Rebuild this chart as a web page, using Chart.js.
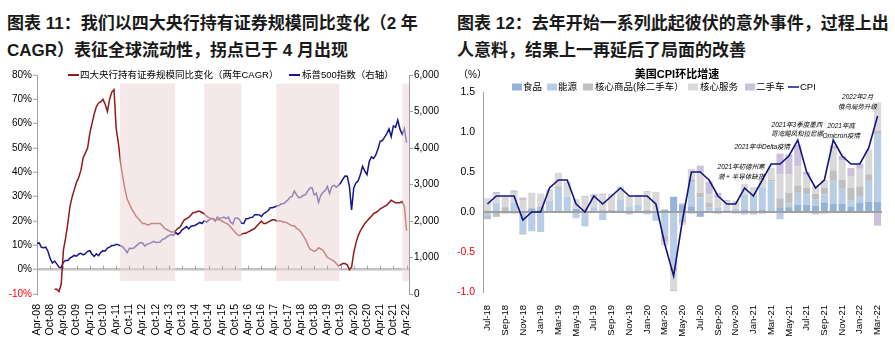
<!DOCTYPE html>
<html><head><meta charset="utf-8">
<script src="https://cdn.jsdelivr.net/npm/chart.js@4.4.0/dist/chart.umd.min.js"></script>
<style>
html,body{margin:0;padding:0;background:#fff;}
body{width:895px;height:343px;position:relative;overflow:hidden;font-family:"Liberation Sans","Noto Sans CJK SC",sans-serif;}
.title{position:absolute;font-weight:bold;font-size:17px;line-height:27px;color:#1a1a1a;white-space:nowrap;}
#t1{left:7px;top:10px;}
#t2{left:457px;top:10px;}
canvas{position:absolute;}
#c1{left:0;top:60px;}
#c2{left:450px;top:60px;}
</style></head><body>
<div class="title" id="t1">图表 11：我们以四大央行持有证券规模同比变化（2 年<br>CAGR）表征全球流动性，拐点已于 4 月出现</div>
<div class="title" id="t2">图表 12：去年开始一系列此起彼伏的意外事件，过程上出<br>人意料，结果上一再延后了局面的改善</div>
<canvas id="c1" width="450" height="283"></canvas>
<canvas id="c2" width="445" height="283"></canvas>
<script>
const FONT = '"Liberation Sans","Noto Sans CJK SC",sans-serif';
Chart.defaults.font.family = FONT;
Chart.defaults.color = '#000';
Chart.defaults.animation = false;

// ---------------- Chart 11 data (monthly, Apr-08 .. Apr-22) ----------------
const xTickLabels = ['Apr-08','Oct-08','Apr-09','Oct-09','Apr-10','Oct-10','Apr-11','Oct-11','Apr-12','Oct-12',
  'Apr-13','Oct-13','Apr-14','Oct-14','Apr-15','Oct-15','Apr-16','Oct-16','Apr-17','Oct-17','Apr-18','Oct-18',
  'Apr-19','Oct-19','Apr-20','Oct-20','Apr-21','Oct-21','Apr-22'];
const seriesNames11 = ['四大央行持有证券规模同比变化（两年CAGR）','标普500指数（右轴）'];
const cbSecuritiesCAGR = [null,null,null,null,null,null,null,null,
  -8,-8,-9,-6,8,13,19,26,30,33,36,38,41,46,48,50,56,60,64,67,68.5,69,70,68,65,70,73,74,58,52,44,38,33,29,27,25,23.5,22,21,20,19,19,18.5,18.5,19,19,19,19,19,18,17,16.5,
  16,15.5,15.5,16,17,17.5,19,20.5,21,21.5,22.5,23.5,23.5,24,24,23.5,23,22,21.5,21,21,20.5,20.5,20.5,20,19.5,19,18.5,17.5,16.5,15.5,14.5,14,14.5,15,15,15.5,16,16.5,17,18,19,20,19,19,19.5,20,20.5,20.5,20,20,20,19.5,19.5,19,18.5,18,18,
  17,16.5,15.5,14,12.5,10.5,8.5,8,7.5,8,9,8.5,8,6.5,5,4.5,4,3.5,2.5,1.5,2,2.5,2.5,2,0,1,7,11,14,16,17.5,19,20,21,22,23,23.5,24,25,25.5,26,26.5,27.5,28.5,28,27.5,27.5,27.5,28,26,16];
const spx500 = [1386,1400,1280,1267,1283,1166,969,850,903,
  826,735,720,873,919,919,987,1021,1057,1036,1096,1115,
  1074,1104,1169,1187,1089,1031,1102,1049,1141,1183,1181,1258,
  1286,1327,1326,1364,1345,1321,1292,1219,1131,1253,1247,1258,
  1312,1366,1408,1398,1310,1362,1379,1407,1441,1412,1416,1426,
  1498,1515,1569,1598,1631,1606,1686,1633,1682,1757,1806,1848,
  1783,1859,1872,1884,1924,1960,1931,2003,1972,2018,2068,2059,
  1995,2105,2068,2086,2107,2063,2104,1972,1920,2079,2080,2044,
  1940,1932,2060,2065,2097,2099,2174,2171,2168,2126,2199,2239,
  2279,2364,2363,2384,2412,2423,2470,2472,2519,2575,2648,2674,
  2824,2714,2641,2648,2705,2718,2816,2902,2914,2712,2760,2507,
  2704,2784,2834,2946,2752,2942,2980,2926,2977,3038,3141,3231,
  3226,2954,2300,2912,3044,3100,3271,3500,3363,3270,3622,3756,
  3714,3811,3973,4181,4204,4298,4395,4523,4308,4605,4567,4766,
  4516,4374,4530,4150];
// shaded periods, in months since Apr-08
const slowdownPeriods = [[37.8,62.8],[76,92.9],[108.8,137.5],[166.1,169.1]];
const shadeRangePct = [76.5,-4.7];

const RED = '#8E1B1B', NAVY = '#16168A';

const plugin11 = {
  id: 'deco11',
  afterDatasetsDraw(chart){
    const {ctx, scales:{x, y}} = chart;
    ctx.save();
    ctx.fillStyle = 'rgba(238,216,216,0.58)';
    const yt = y.getPixelForValue(shadeRangePct[0]), yb = y.getPixelForValue(shadeRangePct[1]);
    for (const [a,b] of slowdownPeriods){
      const x0 = x.getPixelForValue(a), x1 = x.getPixelForValue(Math.min(b, x.max));
      ctx.fillRect(x0, yt, x1-x0, yb-yt);
    }
    ctx.strokeStyle = '#a8a8a8'; ctx.lineWidth = 1;
    const y0 = y.getPixelForValue(0);
    for (let i=0;i<xTickLabels.length;i++){
      const px = Math.round(x.getPixelForValue(i*6))+0.5;
      ctx.beginPath(); ctx.moveTo(px,y0-4); ctx.lineTo(px,y0); ctx.stroke();
    }
    ctx.restore();
  },
  afterDraw(chart){
    const ctx = chart.ctx;
    ctx.save();
    ctx.font = '9.5px ' + FONT; ctx.textBaseline = 'middle'; ctx.fillStyle = '#000';
    const ly = 15;
    ctx.lineWidth = 2;
    ctx.strokeStyle = RED; ctx.beginPath(); ctx.moveTo(68,ly); ctx.lineTo(79,ly); ctx.stroke();
    ctx.fillText(seriesNames11[0], 80, ly);
    ctx.strokeStyle = NAVY; ctx.beginPath(); ctx.moveTo(289,ly); ctx.lineTo(300,ly); ctx.stroke();
    ctx.fillText(seriesNames11[1], 302, ly);
    ctx.restore();
  }
};

new Chart(document.getElementById('c1'), {
  type: 'line',
  data: { datasets: [
    { label: seriesNames11[0], data: cbSecuritiesCAGR.map((v,i)=>({x:i,y:v})), borderColor: RED, borderWidth: 1.5, pointRadius: 0, yAxisID: 'y', spanGaps: false },
    { label: seriesNames11[1], data: spx500.map((v,i)=>({x:i,y:v})), borderColor: NAVY, borderWidth: 1.5, pointRadius: 0, yAxisID: 'y1' }
  ]},
  options: {
    responsive: false, devicePixelRatio: 1,
    layout: { padding: { top: 15, left: 0, right: 0, bottom: 0 } },
    plugins: { legend: { display: false }, tooltip: { enabled: false } },
    scales: {
      x: { type: 'linear', min: 0, max: 169.1,
        afterBuildTicks(axis){ axis.ticks = xTickLabels.map((_,i)=>({value:i*6})); },
        afterFit(axis){ axis.height = 49; },
        ticks: { autoSkip: false, minRotation: 90, maxRotation: 90, padding: 2, font: { size: 10.5 },
          callback: (v) => xTickLabels[Math.round(v/6)] },
        grid: { display: false }, border: { display: false } },
      y: { position: 'left', min: -10, max: 80,
        afterFit(axis){ axis.width = 37; },
        ticks: { stepSize: 10, padding: 1, font: { size: 10 }, callback: v => v + '%',
          color: c => c.tick.value < 0 ? '#ff0000' : '#000' },
        grid: { color: c => c.tick.value === 0 ? '#c0c0c0' : 'rgba(0,0,0,0)', lineWidth: 2.5,
          tickColor: '#a0a0a0', tickLength: 4, drawTicks: true, tickWidth: 1 },
        border: { display: true, color: '#a0a0a0', width: 1 } },
      y1: { position: 'right', min: 0, max: 6000,
        afterFit(axis){ axis.width = 41; },
        ticks: { stepSize: 1000, padding: 1, font: { size: 10 }, callback: v => v.toLocaleString('en-US') },
        grid: { drawOnChartArea: false, color: '#a0a0a0', tickLength: 4 },
        border: { display: true, color: '#a0a0a0', width: 1 } }
    }
  },
  plugins: [plugin11]
});

// ---------------- Chart 12 data ----------------
const cpiMonths = ['Jul-18','Aug-18','Sep-18','Oct-18','Nov-18','Dec-18','Jan-19','Feb-19','Mar-19','Apr-19','May-19','Jun-19',
  'Jul-19','Aug-19','Sep-19','Oct-19','Nov-19','Dec-19','Jan-20','Feb-20','Mar-20','Apr-20','May-20','Jun-20',
  'Jul-20','Aug-20','Sep-20','Oct-20','Nov-20','Dec-20','Jan-21','Feb-21','Mar-21','Apr-21','May-21','Jun-21',
  'Jul-21','Aug-21','Sep-21','Oct-21','Nov-21','Dec-21','Jan-22','Feb-22','Mar-22'];
const food = [0.01,0.01,0.01,0.0,0.01,0.04,0.03,0.01,0.0,0.0,0.04,0.0,0.01,0.0,0.01,0.02,0.01,0.01,0.01,0.01,0.03,0.19,0.09,0.07,-0.06,0.0,0.01,0.01,0.01,0.03,0.02,0.03,0.02,0.05,0.06,0.09,0.09,0.08,0.12,0.1,0.1,0.07,0.12,0.13,0.13];
const energy = [-0.05,0.1,0.0,0.12,-0.26,-0.24,-0.25,0.13,0.3,0.19,-0.07,-0.18,0.05,-0.1,-0.01,0.14,0.06,0.08,-0.03,-0.11,-0.30,-0.68,-0.1,0.3,0.18,0.06,0.04,0.02,0.03,0.19,0.18,0.28,0.36,-0.09,0.05,0.15,0.13,0.08,0.1,0.29,0.2,0.08,0.08,0.26,0.84];
const coreGoodsExUsedCars = [-0.04,-0.06,0.05,-0.02,-0.02,0.01,0.04,0.0,0.02,-0.01,0.0,0.0,0.0,0.03,0.02,0.0,0.0,0.0,0.02,0.0,-0.07,-0.06,-0.03,0.04,0.06,0.06,-0.02,-0.01,0.0,0.0,0.0,0.0,0.02,0.12,0.13,0.09,0.08,0.07,0.08,0.13,0.1,0.15,0.12,0.08,0.05];
const coreServices = [0.15,0.11,0.13,0.12,0.14,0.19,0.15,0.14,0.17,0.19,0.12,0.18,0.14,0.18,0.2,0.16,0.13,0.12,0.22,0.24,-0.05,-0.23,-0.03,0.13,0.25,0.1,0.12,0.1,0.1,0.13,0.11,0.11,0.15,0.3,0.23,0.24,0.16,0.1,0.1,0.26,0.25,0.15,0.22,0.31,0.35];
const usedCars = [0.01,0.03,-0.02,0.03,0.03,0.0,0.01,-0.01,-0.01,0.0,-0.01,0.02,0.02,0.02,0.0,-0.01,-0.03,0.0,0.01,0.0,0.0,-0.02,0.02,-0.02,0.09,0.16,0.07,0.02,-0.02,-0.03,-0.03,-0.02,0.0,0.26,0.25,0.27,0.04,-0.03,-0.02,0.05,0.05,0.1,0.06,0.0,-0.17];
const cpiMoM = [0.1,0.2,0.2,0.2,-0.1,0.0,0.0,0.3,0.4,0.4,0.1,0.0,0.2,0.1,0.2,0.3,0.2,0.2,0.2,0.1,-0.4,-0.8,-0.1,0.5,0.5,0.4,0.2,0.1,0.1,0.3,0.2,0.4,0.6,0.6,0.7,0.9,0.5,0.3,0.4,0.9,0.7,0.6,0.6,0.8,1.2];
const seriesNames12 = ['食品','能源','核心商品(除二手车）','核心服务','二手车','CPI'];
const colors12 = ['#95B3D7','#B9CDE5','#BFBFBF','#D9D9D9','#CCC1DA','#14147F'];
const annotations12 = [
  { month: 'Dec-20', value: 0.56, lines: ['2021年初德州寒','潮 + 半导体缺货'] },
  { month: 'Feb-21', value: 0.81, lines: ['2021年中Delta疫情'] },
  { month: 'May-21', value: 1.09, lines: ['2021年3季度墨西','哥湾飓风和拉尼娜'] },
  { month: 'Nov-21', value: 1.07, lines: ['2021年底','Omicron疫情'] },
  { month: 'Jan-22', value: 1.43, lines: ['2022年2月','俄乌局势升级'] }
];
const annotationOffsets = [-0.4, 0, 0.9, -0.1, -0.25];

const plugin12 = {
  id: 'deco12',
  beforeDatasetDraw(chart, args){
    if (args.index !== 0) return;
    const {ctx, scales:{x, y}} = chart;
    const y0 = y.getPixelForValue(0);
    ctx.save();
    ctx.strokeStyle = '#a0a0a0'; ctx.lineWidth = 2;
    ctx.beginPath(); ctx.moveTo(chart.chartArea.left, y0); ctx.lineTo(chart.chartArea.right, y0); ctx.stroke();
    ctx.restore();
  },
  afterDraw(chart){
    const {ctx, scales:{x, y}} = chart;
    ctx.save();
    ctx.fillStyle = '#000'; ctx.textBaseline = 'middle';
    ctx.font = 'bold 11px ' + FONT; ctx.textAlign = 'center';
    ctx.fillText('美国CPI环比增速', 227, 15);
    ctx.font = '10px ' + FONT; ctx.textAlign = 'left';
    ctx.fillText('（%）', 8, 15);
    // legend
    ctx.font = '9.5px ' + FONT;
    const items = [[62,73],[97,108],[133,145],[238,250],[295,306]];
    items.forEach(([mx,tx],i)=>{
      ctx.fillStyle = colors12[i]; ctx.fillRect(mx, 23.5, 10, 7);
      ctx.fillStyle = '#000'; ctx.fillText(seriesNames12[i], tx, 27);
    });
    ctx.strokeStyle = colors12[5]; ctx.lineWidth = 1.5;
    ctx.beginPath(); ctx.moveTo(338,27); ctx.lineTo(349,27); ctx.stroke();
    ctx.fillText(seriesNames12[5], 350, 27);
    // annotations
    ctx.font = 'italic 6.5px ' + FONT; ctx.textAlign = 'center';
    annotations12.forEach((a,k)=>{
      const px = x.getPixelForValue(cpiMonths.indexOf(a.month) + annotationOffsets[k]);
      const py = y.getPixelForValue(a.value);
      a.lines.forEach((t,j)=> ctx.fillText(t, px, py + j*9.5));
    });
    ctx.restore();
  }
};

const barDs = [food, energy, coreGoodsExUsedCars, coreServices, usedCars].map((arr,i)=>({
  type: 'bar', label: seriesNames12[i], data: arr, backgroundColor: colors12[i], borderWidth: 0,
  barPercentage: 0.8, categoryPercentage: 1.0, order: 1, stack: 's'
}));

new Chart(document.getElementById('c2'), {
  type: 'bar',
  data: { labels: cpiMonths, datasets: [
    { type: 'line', label: 'CPI', data: cpiMoM, borderColor: colors12[5], borderWidth: 1.6, pointRadius: 0, order: 0, tension: 0 },
    ...barDs
  ]},
  options: {
    responsive: false, devicePixelRatio: 1,
    layout: { padding: { top: 32, right: 13, left: 0, bottom: 0 } },
    plugins: { legend: { display: false }, tooltip: { enabled: false } },
    scales: {
      x: { stacked: true, offset: true,
        afterFit(axis){ axis.height = 51; },
        ticks: { autoSkip: false, minRotation: 90, maxRotation: 90, padding: 5, font: { size: 9.5 },
          callback: (v,i) => i % 2 === 0 ? cpiMonths[i] : '' },
        grid: { display: false }, border: { display: false } },
      y: { stacked: true, min: -1, max: 1.5,
        afterFit(axis){ axis.width = 33; },
        ticks: { stepSize: 0.5, padding: 8, font: { size: 10.5 }, callback: v => v.toFixed(1),
          color: c => c.tick.value < 0 ? '#ff0000' : '#000' },
        grid: { drawOnChartArea: false, drawTicks: false },
        border: { display: true, color: '#a0a0a0', width: 1 } }
    }
  },
  plugins: [plugin12]
});
</script>
</body></html>
